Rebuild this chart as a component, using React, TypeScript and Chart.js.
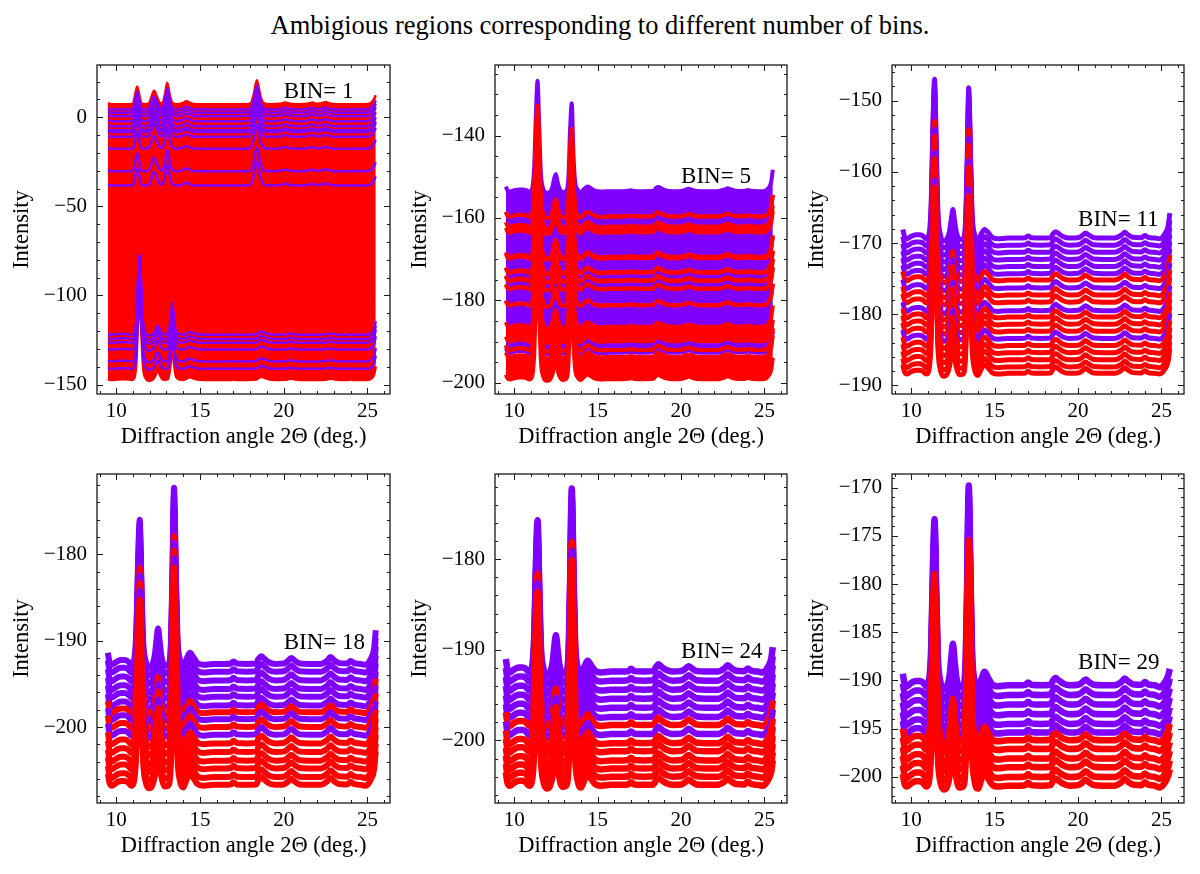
import { useEffect, useRef } from "react"
import { Chart, LineController, LineElement, PointElement, LinearScale, Filler } from "chart.js"

Chart.register(LineController, LineElement, PointElement, LinearScale, Filler)

const SERIF  = '"Liberation Serif", "DejaVu Serif", serif'
const PURPLE = "#8000ff"
const RED    = "#ff0000"
// group 0 = red stack, group 1 = purple stack
const GROUP_COLOR = [RED, PURPLE]

Chart.defaults.font.family = SERIF

// ---- data -----------------------------------------------------------------

// 2θ sample positions of the patterns (BIN 5..29 and the lower BIN 1 stack)
const TWO_THETA = [
  9.5, 9.6, 9.75, 9.9, 10.1, 10.3, 10.5, 10.7, 10.9, 11.05,
  11.2, 11.3, 11.4, 11.5, 11.6, 11.75, 11.95, 12.15, 12.3, 12.4,
  12.5, 12.6, 12.7, 12.9, 13.1, 13.25, 13.35, 13.45, 13.55, 13.65,
  13.8, 14.0, 14.2, 14.4, 14.6, 14.85, 15.2, 15.8, 16.5, 16.85,
  17.0, 17.2, 17.8, 18.35, 18.5, 18.65, 18.85, 19.1, 19.5, 20.0,
  20.25, 20.45, 20.65, 20.95, 21.5, 22.2, 22.6, 22.8, 23.0, 23.3,
  23.8, 24.0, 24.2, 24.6, 24.9, 25.2, 25.4, 25.5,
]

// 2θ sample positions of the upper BIN 1 stack (different peak set)
const TWO_THETA_BIN1_UPPER = [
  9.5, 9.7, 10.2, 10.8, 11.0, 11.1, 11.25, 11.4, 11.5, 11.7,
  11.95, 12.1, 12.26, 12.42, 12.6, 12.75, 12.9, 13.04, 13.2, 13.35,
  13.6, 13.95, 14.2, 14.45, 14.8, 15.5, 16.5, 17.5, 18.0, 18.2,
  18.4, 18.6, 18.8, 19.2, 19.8, 20.1, 20.4, 21.0, 21.5, 21.7,
  21.95, 22.3, 22.5, 22.7, 23.2, 24.0, 24.8, 25.2, 25.4, 25.5,
]

// pattern shapes, intensity above each trace's own baseline
const PROFILE_BIN1_UPPER = [
  0.5, 0.0, 0.0, 0.0, 0.3, 4.0, 10.0, 4.0, 0.5, 0.0,
  0.5, 4.0, 7.5, 4.5, 0.8, 0.5, 5.0, 12.0, 5.0, 0.8,
  0.0, 0.5, 1.6, 0.5, 0.0, 0.0, 0.0, 0.0, 0.3, 5.0,
  13.5, 5.0, 0.6, 0.0, 0.2, 1.0, 0.3, 0.0, 0.4, 1.0,
  0.3, 0.5, 1.2, 0.5, 0.0, 0.0, 0.0, 0.6, 3.0, 5.0,
]
const PROFILE_BIN1_LOWER = [
  0.5, 0.1, -0.1, 0.1, 0.3, 0.4, 0.4, 0.3, 0.0, 0.5,
  9.0, 32.0, 45.0, 26.0, 7.0, 1.0, -0.5, 0.0, 1.5, 4.0,
  5.0, 3.0, 1.0, 0.0, 0.5, 9.0, 18.0, 9.0, 2.5, 0.8,
  0.2, 0.0, 0.8, 1.5, 0.9, 0.2, 0.0, 0.0, 0.0, 0.0,
  0.2, 0.0, 0.0, 0.2, 1.0, 1.8, 1.2, 0.4, 0.0, 0.1,
  0.3, 0.6, 0.3, 0.0, 0.0, 0.0, 0.3, 0.6, 0.3, 0.0,
  0.0, 0.2, 0.0, 0.0, 0.0, 0.6, 3.0, 7.5,
]
const PROFILE_BIN5 = [
  1.1, 0.2, -0.1, 0.1, 0.3, 0.4, 0.4, 0.3, -0.1, 0.3,
  6.0, 18.5, 26.8, 15.5, 4.5, 0.5, -0.4, -0.1, 1.2, 3.2,
  4.1, 2.3, 0.8, -0.2, 0.0, 3.5, 15.0, 21.3, 9.0, 2.5,
  0.4, -0.2, 0.6, 1.1, 0.7, 0.1, -0.1, 0.0, 0.0, 0.1,
  0.2, 0.05, 0.0, 0.1, 0.8, 1.0, 0.6, 0.2, 0.0, 0.05,
  0.3, 0.6, 0.35, 0.05, 0.0, 0.0, 0.4, 0.7, 0.4, 0.1,
  0.05, 0.3, 0.1, 0.0, 0.0, 0.6, 2.2, 5.2,
]
const PROFILE_BIN11 = [
  1.2, 0.2, -0.1, 0.1, 0.35, 0.45, 0.45, 0.3, -0.1, 0.3,
  5.0, 15.5, 22.3, 13.0, 3.8, 0.5, -0.4, -0.1, 1.0, 2.6,
  4.0, 2.4, 0.9, -0.2, -0.1, 2.0, 10.2, 21.1, 12.3, 3.6,
  0.5, -0.3, 0.6, 1.2, 0.8, 0.1, -0.1, 0.0, 0.0, 0.05,
  0.3, 0.05, 0.0, 0.05, 0.6, 0.9, 0.6, 0.2, 0.0, 0.05,
  0.35, 0.7, 0.4, 0.05, 0.0, 0.0, 0.4, 0.8, 0.45, 0.1,
  0.05, 0.35, 0.1, 0.0, -0.1, 0.6, 1.7, 3.5,
]
const PROFILE_BIN18 = [
  1.3, 0.2, -0.1, 0.1, 0.35, 0.45, 0.45, 0.3, -0.1, 0.3,
  3.9, 11.6, 16.7, 9.8, 2.9, 0.4, -0.4, -0.1, 1.0, 2.7,
  4.1, 2.5, 0.9, -0.2, -0.1, 1.9, 9.9, 20.4, 11.8, 3.4,
  0.5, -0.3, 0.6, 1.3, 0.8, 0.1, -0.1, 0.0, 0.0, 0.05,
  0.3, 0.05, 0.0, 0.05, 0.6, 0.9, 0.6, 0.2, 0.0, 0.05,
  0.35, 0.7, 0.4, 0.05, 0.0, 0.0, 0.4, 0.8, 0.45, 0.1,
  0.05, 0.35, 0.1, 0.0, -0.1, 0.6, 1.8, 3.9,
]
const PROFILE_BIN24 = [
  1.4, 0.2, -0.1, 0.1, 0.35, 0.45, 0.45, 0.3, -0.1, 0.3,
  3.9, 11.7, 16.7, 9.7, 2.9, 0.4, -0.4, -0.1, 1.0, 2.7,
  4.0, 2.5, 0.9, -0.2, -0.1, 1.9, 9.8, 20.2, 11.7, 3.4,
  0.5, -0.3, 0.5, 1.2, 0.7, 0.1, -0.1, 0.0, 0.0, 0.05,
  0.3, 0.05, 0.0, 0.05, 0.5, 0.8, 0.5, 0.2, 0.0, 0.05,
  0.3, 0.6, 0.35, 0.05, 0.0, 0.0, 0.35, 0.7, 0.4, 0.1,
  0.05, 0.35, 0.1, 0.0, -0.1, 0.5, 1.4, 2.7,
]
const PROFILE_BIN29 = [
  1.2, 0.2, -0.1, 0.1, 0.35, 0.45, 0.45, 0.3, -0.1, 0.3,
  4.0, 12.0, 17.2, 10.0, 3.0, 0.4, -0.4, -0.1, 1.0, 2.8,
  4.3, 2.6, 0.9, -0.2, -0.1, 2.0, 10.0, 20.7, 12.0, 3.5,
  0.5, -0.3, 0.6, 1.4, 0.8, 0.1, -0.1, 0.0, 0.0, 0.05,
  0.3, 0.05, 0.0, 0.05, 0.5, 0.75, 0.5, 0.2, 0.0, 0.05,
  0.3, 0.6, 0.35, 0.05, 0.0, 0.0, 0.35, 0.7, 0.4, 0.1,
  0.05, 0.35, 0.1, 0.0, -0.2, 0.3, 1.0, 1.7,
]

// trace baselines (intensity offsets)
const BIN1_RED_SPAN      = [7.3, -147.4]
const BIN1_PURPLE_UPPER  = [4.3, 2.5, 0.6, -2.2, -5.0, -7.3, -8.3, -11.0, -17.7, -30.3, -38.3]
const BIN1_PURPLE_LOWER  = [-122.0, -124.4, -126.6, -130.4, -137.0, -141.2]

const BIN5_PURPLE_SPAN = [-153.5, -192.7]
const BIN5_RED_SPANS = [
  [-159.65, -159.65], [-162.1, -163.5], [-169.4, -169.8], [-173.1, -173.3], [-175.1, -175.3],
  [-177.2, -177.2], [-181.15, -181.15], [-186.4, -189.9], [-192.0, -192.0], [-193.7, -199.1],
]

const BIN11_BASES = [-169.3, -170.3, -171.3, -172.3, -173.3, -174.3, -175.2, -176.3, -177.3, -178.3,
                     -179.5, -180.4, -181.4, -182.4, -183.4, -184.4, -185.4, -186.4, -187.4, -188.3]
const BIN11_GROUP = [1, 1, 1, 1, 1, 1, 0, 1, 0, 0, 1, 0, 0, 0, 1, 0, 0, 0, 0, 0]

const BIN18_BASES = [-192.7, -193.6, -194.6, -195.6, -196.5, -197.5, -198.3, -199.1,
                     -200.0, -200.9, -201.9, -202.9, -203.9, -204.8, -205.8, -206.7]
const BIN18_GROUP = [1, 1, 1, 1, 1, 1, 0, 1, 0, 1, 0, 0, 0, 0, 0, 0]

const BIN24_BASES = [-192.4, -193.4, -194.4, -195.4, -196.4, -197.4, -198.3,
                     -199.3, -200.3, -201.2, -202.2, -203.1, -204.0, -204.9]
const BIN24_GROUP = [1, 1, 1, 1, 1, 1, 0, 1, 0, 0, 0, 0, 0, 0]

const BIN29_BASES = [-190.5, -191.5, -192.5, -193.5, -194.5, -195.4,
                     -196.2, -197.1, -198.1, -199.0, -200.0, -200.9]
const BIN29_GROUP = [1, 1, 1, 1, 1, 1, 0, 0, 0, 0, 0, 0]

// axis ticks
const X_TICKS       = [10, 15, 20, 25]
const BIN1_Y_TICKS  = [-150, -100, -50, 0]
const BIN5_Y_TICKS  = [-200, -180, -160, -140]
const BIN11_Y_TICKS = [-190, -180, -170, -160, -150]
const BIN18_Y_TICKS = [-200, -190, -180]
const BIN24_Y_TICKS = [-200, -190, -180]
const BIN29_Y_TICKS = [-200, -195, -190, -185, -180, -175, -170]

// ---- layers ---------------------------------------------------------------

interface Curve { xs: number[]; ys: number[]; base: number }
interface Layer { top: Curve; bottom?: Curve; color: string; width: number }

const stack = (bases: number[], groups: number[], ys: number[], width: number): Layer[] =>
  bases.map((b, i) => ({ top: { xs: TWO_THETA, ys, base: b }, color: GROUP_COLOR[groups[i]], width }))

const bin1Layers: Layer[] = [
  {
    top:    { xs: TWO_THETA_BIN1_UPPER, ys: PROFILE_BIN1_UPPER, base: BIN1_RED_SPAN[0] },
    bottom: { xs: TWO_THETA, ys: PROFILE_BIN1_LOWER, base: BIN1_RED_SPAN[1] },
    color: RED, width: 2.5,
  },
  ...BIN1_PURPLE_UPPER.map(b => ({ top: { xs: TWO_THETA_BIN1_UPPER, ys: PROFILE_BIN1_UPPER, base: b }, color: PURPLE, width: 2.5 })),
  ...BIN1_PURPLE_LOWER.map(b => ({ top: { xs: TWO_THETA, ys: PROFILE_BIN1_LOWER, base: b }, color: PURPLE, width: 2.5 })),
]

const bin5Layers: Layer[] = [
  {
    top:    { xs: TWO_THETA, ys: PROFILE_BIN5, base: BIN5_PURPLE_SPAN[0] },
    bottom: { xs: TWO_THETA, ys: PROFILE_BIN5, base: BIN5_PURPLE_SPAN[1] },
    color: PURPLE, width: 4,
  },
  ...BIN5_RED_SPANS.map(([t, b]) => ({
    top:    { xs: TWO_THETA, ys: PROFILE_BIN5, base: t },
    bottom: { xs: TWO_THETA, ys: PROFILE_BIN5, base: b },
    color: RED, width: 4,
  })),
]

interface PanelCfg {
  left: number; top: number; w: number; h: number
  yMin: number; yMax: number; yTicks: number[]; yMinor: number
  label: string; labelY: number
  layers: Layer[]
}

const X_MIN = 8.85
const X_MAX = 26.35

const PANELS: PanelCfg[] = [
  { left: 97,  top: 65,  w: 293, h: 329, yMin: -155.3, yMax: 29.3,   yTicks: BIN1_Y_TICKS,  yMinor: 10, label: "BIN= 1",  labelY: 13.9,   layers: bin1Layers },
  { left: 495, top: 65,  w: 292, h: 329, yMin: -202.7, yMax: -122.9, yTicks: BIN5_Y_TICKS,  yMinor: 5,  label: "BIN= 5",  labelY: -150.1, layers: bin5Layers },
  { left: 892, top: 65,  w: 292, h: 329, yMin: -191.2, yMax: -145.0, yTicks: BIN11_Y_TICKS, yMinor: 2,  label: "BIN= 11", labelY: -166.7, layers: stack(BIN11_BASES, BIN11_GROUP, PROFILE_BIN11, 5) },
  { left: 97,  top: 474, w: 293, h: 329, yMin: -208.8, yMax: -170.7, yTicks: BIN18_Y_TICKS, yMinor: 2,  label: "BIN= 18", labelY: -190.3, layers: stack(BIN18_BASES, BIN18_GROUP, PROFILE_BIN18, 6) },
  { left: 495, top: 474, w: 292, h: 329, yMin: -206.9, yMax: -170.6, yTicks: BIN24_Y_TICKS, yMinor: 2,  label: "BIN= 24", labelY: -190.2, layers: stack(BIN24_BASES, BIN24_GROUP, PROFILE_BIN24, 6.5) },
  { left: 892, top: 474, w: 292, h: 329, yMin: -202.7, yMax: -168.6, yTicks: BIN29_Y_TICKS, yMinor: 1,  label: "BIN= 29", labelY: -188.2, layers: stack(BIN29_BASES, BIN29_GROUP, PROFILE_BIN29, 6.5) },
]

// ---- chart ----------------------------------------------------------------

const PAD_L = 97, PAD_T = 25, PAD_R = 25, PAD_B = 60

const minus = (v: number | string) => String(v).replace("-", "\u2212")

// inward ticks on all four sides, the frame, and the BIN label
const framePlugin = {
  id: "frame",
  afterDatasetsDraw(chart: any, _args: any, opts: any) {
    const { ctx, chartArea: a, scales: { x, y } } = chart
    ctx.save()
    ctx.strokeStyle = "#1a1a1a"
    ctx.lineWidth = 1
    const vTick = (v: number, len: number) => {
      const p = Math.round(y.getPixelForValue(v)) + 0.5
      ctx.beginPath()
      ctx.moveTo(a.left, p);  ctx.lineTo(a.left + len, p)
      ctx.moveTo(a.right, p); ctx.lineTo(a.right - len, p)
      ctx.stroke()
    }
    const hTick = (v: number, len: number) => {
      const p = Math.round(x.getPixelForValue(v)) + 0.5
      ctx.beginPath()
      ctx.moveTo(p, a.bottom); ctx.lineTo(p, a.bottom - len)
      ctx.moveTo(p, a.top);    ctx.lineTo(p, a.top + len)
      ctx.stroke()
    }
    for (let k = Math.ceil(y.min / opts.yMinor); k * opts.yMinor <= y.max; k++) {
      const v = k * opts.yMinor
      vTick(v, opts.yTicks.includes(v) ? 6 : 3)
    }
    for (let k = Math.ceil(x.min); k <= x.max; k++) hTick(k, X_TICKS.includes(k) ? 6 : 3)

    ctx.lineWidth = 1.3
    ctx.strokeRect(a.left, a.top, a.right - a.left, a.bottom - a.top)

    ctx.fillStyle = "#000"
    ctx.font = `23px ${SERIF}`
    ctx.textAlign = "left"
    ctx.textBaseline = "middle"
    ctx.fillText(opts.label, x.getPixelForValue(20), y.getPixelForValue(opts.labelY))
    ctx.restore()
  },
}

function toDataset(c: Curve, color: string, width: number, fill: any) {
  return {
    data: c.xs.map((x, i) => ({ x, y: c.ys[i] + c.base })),
    borderColor: color,
    backgroundColor: color,
    borderWidth: width,
    pointRadius: 0,
    cubicInterpolationMode: "monotone" as const,
    fill,
  }
}

function Panel({ cfg }: { cfg: PanelCfg }) {
  const canvasRef = useRef<HTMLCanvasElement>(null)

  useEffect(() => {
    if (!canvasRef.current) return

    // build in painting order, then reverse: Chart.js paints dataset 0 last
    const drawList: any[] = []
    cfg.layers.forEach(l => {
      drawList.push(toDataset(l.top, l.color, l.width, l.bottom ? "-1" : false))
      if (l.bottom) drawList.push(toDataset(l.bottom, l.color, l.width, false))
    })
    const datasets = drawList.reverse()

    const tickFont  = { family: SERIF, size: 21 }
    const titleFont = { family: SERIF, size: 22.5 }

    const chart = new Chart(canvasRef.current, {
      type: "line",
      data: { datasets },
      plugins: [framePlugin],
      options: {
        animation: false,
        responsive: true,
        maintainAspectRatio: false,
        layout: { padding: { left: 0, top: PAD_T, right: PAD_R, bottom: 0 } },
        plugins: {
          legend: { display: false },
          tooltip: { enabled: false },
          filler: { drawTime: "beforeDatasetDraw" },
          frame: { label: cfg.label, labelY: cfg.labelY, yTicks: cfg.yTicks, yMinor: cfg.yMinor },
        } as any,
        scales: {
          x: {
            type: "linear",
            min: X_MIN,
            max: X_MAX,
            grid: { display: false, drawTicks: false },
            border: { display: false },
            afterBuildTicks: (s: any) => { s.ticks = X_TICKS.map(v => ({ value: v })) },
            afterFit: (s: any) => { s.height = PAD_B },
            ticks: { font: tickFont, color: "#000", padding: 5, maxRotation: 0, autoSkip: false, callback: v => minus(v) },
            title: { display: true, text: "Diffraction angle 2\u0398 (deg.)", font: titleFont, color: "#000", padding: { top: 0, bottom: 3 } },
          },
          y: {
            type: "linear",
            min: cfg.yMin,
            max: cfg.yMax,
            grid: { display: false, drawTicks: false },
            border: { display: false },
            afterBuildTicks: (s: any) => { s.ticks = cfg.yTicks.map(v => ({ value: v })) },
            afterFit: (s: any) => { s.width = PAD_L },
            ticks: { font: tickFont, color: "#000", padding: 10, autoSkip: false, callback: v => minus(v) },
            title: { display: true, text: "Intensity", font: titleFont, color: "#000", padding: { top: 9, bottom: 0 } },
          },
        },
      },
    })

    return () => { chart.destroy() }
  }, [cfg])

  return (
    <div style={{
      position: "absolute",
      left: cfg.left - PAD_L,
      top: cfg.top - PAD_T,
      width: cfg.w + PAD_L + PAD_R,
      height: cfg.h + PAD_T + PAD_B,
    }}>
      <canvas ref={canvasRef} />
    </div>
  )
}

export default function App() {
  return (
    <div style={{ position: "absolute", left: 0, top: 0, width: 1200, height: 874, background: "#fff" }}>
      <div style={{
        position: "absolute", left: 0, top: 10, width: 1200, textAlign: "center",
        fontFamily: SERIF, fontSize: 26.5, lineHeight: "30px", color: "#000",
      }}>
        Ambigious regions corresponding to different number of bins.
      </div>
      {PANELS.map(p => <Panel key={p.label} cfg={p} />)}
    </div>
  )
}
